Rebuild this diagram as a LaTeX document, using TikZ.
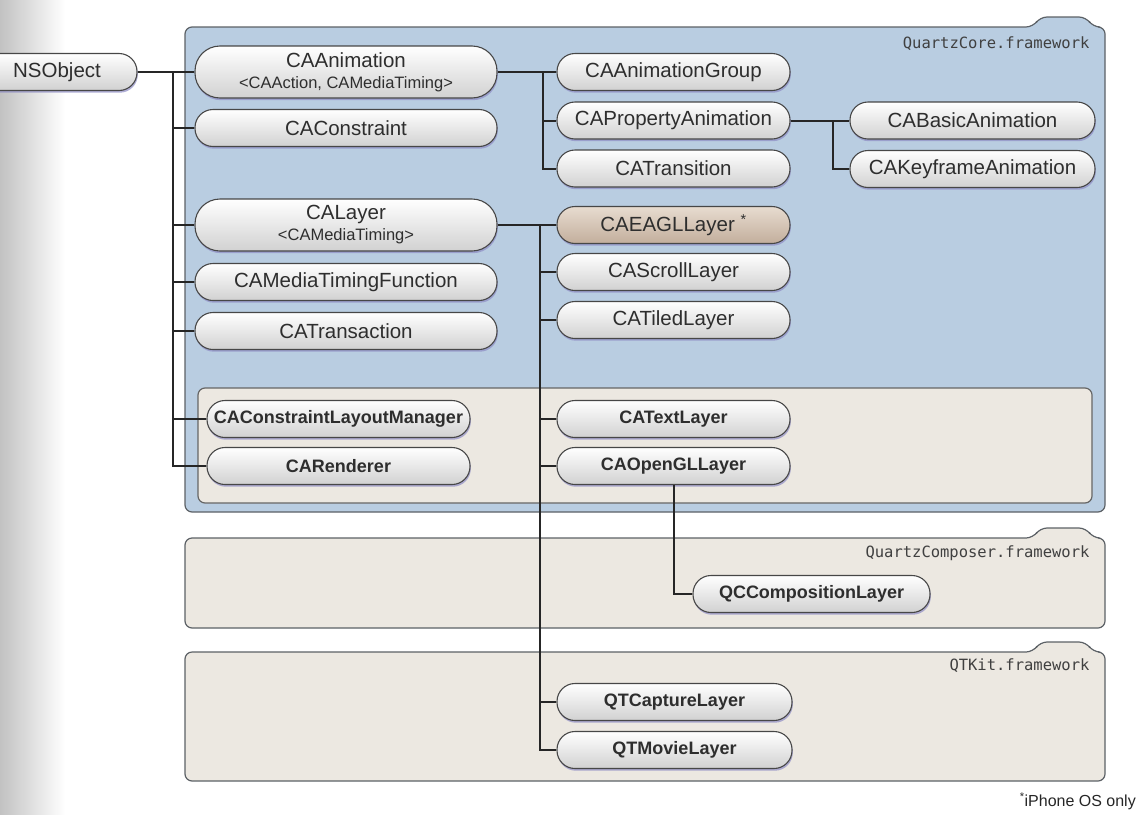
\documentclass[tikz,border=0pt]{standalone}
\usepackage{fontspec}
\setmainfont{Liberation Sans}
\newfontfamily\monofont{DejaVu Sans Mono}
\usetikzlibrary{shadows}
\definecolor{qcblue}{HTML}{B9CDE1}
\definecolor{qcbeige}{HTML}{ECE8E1}
\definecolor{framedraw}{HTML}{5C6166}
\definecolor{shadowcol}{HTML}{8E8CC4}
\definecolor{tantop}{HTML}{E8DCD0}
\definecolor{tanbot}{HTML}{C2AE9C}
\tikzset{
  cls/.style={rectangle, rounded corners=18pt, draw=black!72, line width=1.1pt,
    top color=white, bottom color=black!18, minimum height=37pt, inner sep=0pt,
    font=\fontsize{20.5}{22}\selectfont, text=black!82,
    drop shadow={shadow xshift=0.8pt, shadow yshift=-2.2pt, fill=shadowcol, opacity=0.7}},
  wide/.style={minimum width=302pt},
  mid/.style={minimum width=233pt},
  bcls/.style={cls, font=\fontsize{18}{20}\selectfont\bfseries},
  twoline/.style={minimum height=52pt, rounded corners=25pt, align=center},
  conn/.style={draw=black!85, line width=2pt},
  fwframe/.style={draw=framedraw, line width=1.2pt, rounded corners=7pt},
  fwlabel/.style={font=\monofont\fontsize{15.5}{16}\selectfont, text=black!75, anchor=east}
}
\begin{document}
\begin{tikzpicture}[x=1pt,y=-1pt]
\useasboundingbox (0,0) rectangle (1142,814);
% page shadow
\shade[left color=black!24, right color=white, draw=none] (0,0) rectangle (65,814);
% frames
\draw[fwframe, fill=qcblue] (185,512) -- (185,27) -- (1033,27) -- (1040,17) -- (1086,17) -- (1093,27) -- (1105,27) -- (1105,512) -- cycle;
\draw[fwframe, fill=qcbeige, draw=black!60] (198,503) -- (198,388) -- (1092,388) -- (1092,503) -- cycle;
\node[fwlabel] (fw1) at (1093,44) {QuartzCore.framework};
\draw[fwframe, fill=qcbeige] (185,628) -- (185,538) -- (1033,538) -- (1040,528) -- (1086,528) -- (1093,538) -- (1105,538) -- (1105,628) -- cycle;
\node[fwlabel] (fw2) at (1093,553) {QuartzComposer.framework};
\draw[fwframe, fill=qcbeige] (185,781) -- (185,652) -- (1033,652) -- (1040,642) -- (1086,642) -- (1093,652) -- (1105,652) -- (1105,781) -- cycle;
\node[fwlabel] (fw3) at (1093,666) {QTKit.framework};
% footnote
\node[anchor=south east, inner sep=0pt, font=\fontsize{16}{18}\selectfont, text=black!85] (fn) at (1136,810) {\textsuperscript{*}iPhone OS only};
% nodes
\node[cls, minimum width=160pt] (nsobject) at (57,72) {NSObject};
\node[cls, wide, twoline] (caanim) at (346,72) {CAAnimation\\[-1pt]{\fontsize{16.5}{17}\selectfont <CAAction, CAMediaTiming>}};
\node[cls, wide] (caconstraint) at (346,128) {CAConstraint};
\node[cls, wide, twoline] (calayer) at (346,225) {CALayer\\[-1pt]{\fontsize{16.5}{17}\selectfont <CAMediaTiming>}};
\node[cls, wide] (catimingfn) at (346,282) {CAMediaTimingFunction};
\node[cls, wide] (catransaction) at (346,331) {CATransaction};
\node[bcls, minimum width=263pt] (calayoutmgr) at (338.5,419) {CAConstraintLayoutManager};
\node[bcls, minimum width=263pt] (carenderer) at (338.5,466) {CARenderer};
\node[cls, mid] (cagroup) at (673.5,72) {CAAnimationGroup};
\node[cls, mid] (caprop) at (673.5,120.5) {CAPropertyAnimation};
\node[cls, mid] (catransition) at (673.5,168.5) {CATransition};
\node[cls, minimum width=245pt] (cabasic) at (972.5,120.5) {CABasicAnimation};
\node[cls, minimum width=245pt] (cakeyframe) at (972.5,169) {CAKeyframeAnimation};
\node[cls, mid, top color=tantop, bottom color=tanbot] (caeagl) at (673.5,225) {CAEAGLLayer \textsuperscript{*}};
\node[cls, mid] (cascroll) at (673.5,272) {CAScrollLayer};
\node[cls, mid] (catiled) at (673.5,320) {CATiledLayer};
\node[bcls, mid] (catext) at (673.5,419) {CATextLayer};
\node[bcls, mid] (caopengl) at (673.5,466) {CAOpenGLLayer};
\node[bcls, minimum width=237pt] (qccomp) at (811.5,594) {QCCompositionLayer};
\node[bcls, minimum width=235pt] (qtcapture) at (674.5,702) {QTCaptureLayer};
\node[bcls, minimum width=235pt] (qtmovie) at (674.5,750) {QTMovieLayer};
% connectors
\coordinate (t0) at (173,72);
\draw[conn] (nsobject.east) -- (caanim.west);
\draw[conn] (t0) |- (carenderer.west);
\foreach \n in {caconstraint, calayer, catimingfn, catransaction, calayoutmgr}
  \draw[conn] (t0 |- \n.west) -- (\n.west);
\coordinate (a0) at (543,72);
\draw[conn] (caanim.east) -- (cagroup.west);
\draw[conn] (a0) |- (catransition.west);
\draw[conn] (a0 |- caprop.west) -- (caprop.west);
\coordinate (p0) at (833,120.5);
\draw[conn] (caprop.east) -- (cabasic.west);
\draw[conn] (p0) |- (cakeyframe.west);
\coordinate (l0) at (540,225);
\draw[conn] (calayer.east) -- (caeagl.west);
\draw[conn] (l0) |- (qtmovie.west);
\foreach \n in {cascroll, catiled, catext, caopengl, qtcapture}
  \draw[conn] (l0 |- \n.west) -- (\n.west);
\draw[conn] (caopengl.south) |- (qccomp.west);
\end{tikzpicture}
\end{document}
